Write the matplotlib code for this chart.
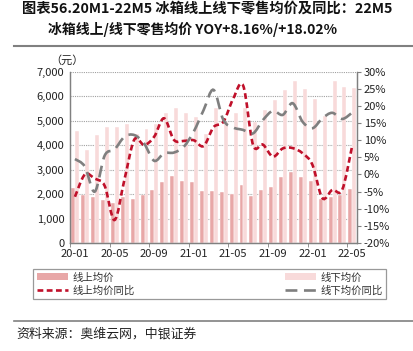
import matplotlib
matplotlib.use("Agg")
import matplotlib.pyplot as plt
from matplotlib.path import Path
from matplotlib.patches import PathPatch
from matplotlib.lines import Line2D
from matplotlib.patches import Patch
from matplotlib.ticker import FuncFormatter

plt.rcParams["font.family"] = ["Noto Sans CJK SC", "DejaVu Sans"]

# ---- data ----
months = ["20-01", "20-02", "20-03", "20-04", "20-05", "20-06", "20-07", "20-08",
          "20-09", "20-10", "20-11", "20-12", "21-01", "21-02", "21-03", "21-04",
          "21-05", "21-06", "21-07", "21-08", "21-09", "21-10", "21-11", "21-12",
          "22-01", "22-02", "22-03", "22-04", "22-05"]
online_price = [2250, 1970, 1860, 1770, 1620, 1890, 1810, 1970, 2170, 2510,
                2750, 2550, 2500, 2130, 2130, 2065, 2000, 2380, 1940, 2170,
                2300, 2690, 2920, 2690, 2550, 1800, 1900, 1950, 2200]
offline_price = [4590, 3800, 4430, 4750, 4750, 4850, 4460, 4660, 4850, 5300,
                 5500, 5300, 5140, 4460, 5500, 4950, 5330, 5500, 4950, 5430,
                 5840, 6240, 6600, 6290, 5880, 5200, 6620, 6360, 6320]
online_yoy = [-6.5, 0.0, -1.2, -3.3, -13.3, -1.5, 10.2, 8.6, 11.0, 16.4,
              10.1, 9.8, 10.0, 8.3, 13.8, 15.4, 22.2, 25.9, 8.6, 8.7,
              5.2, 7.6, 7.7, 6.2, 2.8, -6.9, -4.5, -4.5, 8.16]
offline_yoy = [4.5, 2.3, -5.0, 5.5, 7.3, 11.0, 11.5, 9.0, 4.0, 6.2,
               6.4, 8.1, 12.5, 18.8, 24.7, 15.9, 13.7, 13.0, 12.0, 15.9,
               18.6, 17.4, 20.8, 15.4, 13.5, 16.4, 18.0, 16.2, 18.02]
label_every = 4


def smooth_path(xs, ys):
    # Excel-style smoothed line: cubic bezier through every data point
    verts = [(xs[0], ys[0])]
    codes = [Path.MOVETO]
    n = len(xs)
    for i in range(n - 1):
        x0, y0 = (xs[i - 1], ys[i - 1]) if i > 0 else (xs[i], ys[i])
        x1, y1 = xs[i], ys[i]
        x2, y2 = xs[i + 1], ys[i + 1]
        x3, y3 = (xs[i + 2], ys[i + 2]) if i + 2 < n else (x2, y2)
        c1 = (x1 + (x2 - x0) / 6.0, y1 + (y2 - y0) / 6.0)
        c2 = (x2 - (x3 - x1) / 6.0, y2 - (y3 - y1) / 6.0)
        verts += [c1, c2, (x2, y2)]
        codes += [Path.CURVE4] * 3
    return Path(verts, codes)


W, H = 414, 351
fig = plt.figure(figsize=(W / 100, H / 100), dpi=100)
ax = fig.add_axes([70 / W, 1 - 243 / H, 287 / W, (243 - 71.7) / H])
ax2 = ax.twinx()

x = list(range(len(months)))
dark_c = "#E8A7A7"
light_c = "#F8DADA"
ax.bar([i - 0.17 for i in x], online_price, width=0.4, color=dark_c,
       edgecolor="white", linewidth=0.3, zorder=2)
ax.bar([i + 0.23 for i in x], offline_price, width=0.4, color=light_c,
       edgecolor="white", linewidth=0.3, zorder=2)

red = "#C0102A"
grey = "#7F7F7F"
red_ls = (0, (2.2, 1.3))
grey_ls = (0, (4.5, 2.5))
ax2.add_patch(PathPatch(smooth_path(x, online_yoy), facecolor="none",
                        edgecolor=red, lw=1.9, linestyle=red_ls, zorder=3))
ax2.add_patch(PathPatch(smooth_path(x, offline_yoy), facecolor="none",
                        edgecolor=grey, lw=1.9, linestyle=grey_ls, zorder=3))

ax.set_xlim(-0.5, len(months) - 0.5)
ax.set_ylim(0, 7000)
ax2.set_ylim(-20, 30)
ax.set_yticks(range(0, 7001, 1000))
ax2.set_yticks(range(-20, 31, 5))
ax.yaxis.set_major_formatter(FuncFormatter(lambda v, p: f"{int(v):,}"))
ax2.yaxis.set_major_formatter(FuncFormatter(lambda v, p: f"{int(v)}%"))

ax.set_xticks(x[::label_every])
ax.set_xticklabels(months[::label_every])
ax.set_xticks([i - 0.5 for i in x[::label_every]], minor=True)
ax.tick_params(axis="x", which="major", length=0, pad=4, labelsize=8, colors="#222222")
ax.tick_params(axis="x", which="minor", length=3, color="#808080")
ax.tick_params(axis="y", length=0, pad=4, labelsize=8, colors="#222222")
ax2.tick_params(axis="y", length=3, pad=2, labelsize=8, colors="#222222", color="#808080")

ax.grid(axis="y", color="#A0A0A0", linestyle=(0, (1, 1)), linewidth=0.8, zorder=0)
ax.set_axisbelow(True)
for a in (ax, ax2):
    a.spines["top"].set_visible(False)
    for s in ("left", "right", "bottom"):
        a.spines[s].set_color("#808080")
        a.spines[s].set_linewidth(0.9)

fig.text(67 / W, 1 - 60 / H, "（元）", fontsize=8, ha="center", va="center", color="#222222")

# legend
handles = [Patch(facecolor=dark_c, edgecolor="none"),
           Line2D([], [], color=red, lw=1.9, linestyle=red_ls),
           Patch(facecolor=light_c, edgecolor="none"),
           Line2D([], [], color=grey, lw=1.9, linestyle=grey_ls)]
labels = ["线上均价", "线上均价同比", "线下均价", "线下均价同比"]
leg = fig.legend(handles, labels, ncol=2, mode="expand", fontsize=7.5,
                 bbox_to_anchor=(33 / W, 1 - 300 / H, 353 / W, 32 / H),
                 loc="center", frameon=True, fancybox=False,
                 handlelength=3.0, handleheight=0.6, borderpad=0.35,
                 labelspacing=0.3, columnspacing=1.0, handletextpad=0.4,
                 borderaxespad=0.0)
leg.get_frame().set_edgecolor("#808080")
leg.get_frame().set_linewidth(0.9)
for t in leg.get_texts():
    t.set_color("#333333")

# title and rules
fig.text(207 / W, 1 - 9 / H, "图表56.20M1-22M5 冰箱线上线下零售均价及同比：22M5",
         fontsize=10.3, fontweight="bold", ha="center", va="center", color="#111111")
fig.text(193 / W, 1 - 29 / H, "冰箱线上/线下零售均价 YOY+8.16%/+18.02%",
         fontsize=10.0, fontweight="bold", ha="center", va="center", color="#111111")
fig.add_artist(Line2D([14 / W, 1.0], [1 - 46 / H, 1 - 46 / H], color="#808080", lw=1.5))
fig.add_artist(Line2D([14 / W, 1.0], [1 - 321 / H, 1 - 321 / H], color="#808080", lw=1.2))
fig.text(16 / W, 1 - 334 / H, "资料来源：奥维云网，中银证券", fontsize=9.3,
         ha="left", va="center", color="#222222", style="italic")

fig.savefig("out.png", dpi=100)
